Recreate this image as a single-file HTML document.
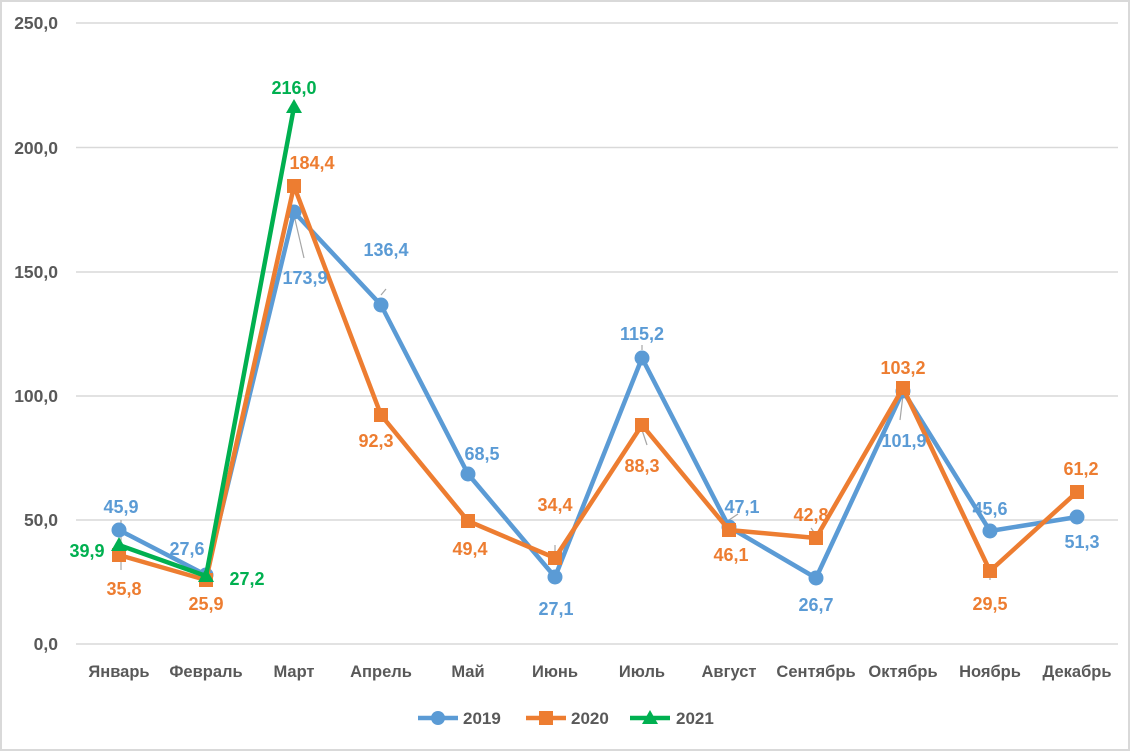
<!DOCTYPE html>
<html><head><meta charset="utf-8"><style>
html,body{margin:0;padding:0;background:#fff}
svg{display:block}
text{font-family:"Liberation Sans",sans-serif;font-weight:bold}
</style></head><body>
<svg width="1130" height="751" viewBox="0 0 1130 751" xmlns="http://www.w3.org/2000/svg">
<rect x="1" y="1" width="1128" height="749" fill="#fff" stroke="#d9d9d9" stroke-width="2"/>
<g stroke="#d9d9d9" stroke-width="1.5">
<line x1="76" y1="23" x2="1118" y2="23"/><line x1="76" y1="147.5" x2="1118" y2="147.5"/>
<line x1="76" y1="272" x2="1118" y2="272"/><line x1="76" y1="396" x2="1118" y2="396"/>
<line x1="76" y1="520" x2="1118" y2="520"/><line x1="76" y1="644" x2="1118" y2="644"/>
</g>
<g fill="#595959" font-size="17.5" text-anchor="end">
<text x="58" y="29">250,0</text><text x="58" y="154">200,0</text><text x="58" y="278">150,0</text>
<text x="58" y="402">100,0</text><text x="58" y="526">50,0</text><text x="58" y="650">0,0</text>
</g>
<g fill="#595959" font-size="16.5" text-anchor="middle">
<text x="119" y="677">Январь</text><text x="206" y="677">Февраль</text><text x="294" y="677">Март</text>
<text x="381" y="677">Апрель</text><text x="468" y="677">Май</text><text x="555" y="677">Июнь</text>
<text x="642" y="677">Июль</text><text x="729" y="677">Август</text><text x="816" y="677">Сентябрь</text>
<text x="903" y="677">Октябрь</text><text x="990" y="677">Ноябрь</text><text x="1077" y="677">Декабрь</text>
</g>
<g stroke="#a6a6a6" stroke-width="1.2">
<line x1="121" y1="520" x2="121" y2="570"/><line x1="294" y1="215" x2="304" y2="258"/>
<line x1="381" y1="295" x2="386" y2="289"/><line x1="642" y1="350" x2="642" y2="345"/>
<line x1="642" y1="430" x2="647" y2="445"/><line x1="555" y1="555" x2="555" y2="545"/>
<line x1="729" y1="520" x2="738" y2="514"/><line x1="816" y1="535" x2="811" y2="528"/>
<line x1="903" y1="395" x2="900" y2="420"/><line x1="990" y1="572" x2="990" y2="580"/>
</g>
<polyline fill="none" stroke="#5b9bd5" stroke-width="4.5" stroke-linejoin="round" points="119,530 206,575 294,212 381,305 468,474 555,577 642,358 729,527 816,578 903,391 990,531 1077,517"/>
<g fill="#5b9bd5">
<circle cx="119" cy="530" r="7.5"/><circle cx="206" cy="575" r="7.5"/><circle cx="294" cy="212" r="7.5"/><circle cx="381" cy="305" r="7.5"/><circle cx="468" cy="474" r="7.5"/><circle cx="555" cy="577" r="7.5"/><circle cx="642" cy="358" r="7.5"/><circle cx="729" cy="527" r="7.5"/><circle cx="816" cy="578" r="7.5"/><circle cx="903" cy="391" r="7.5"/><circle cx="990" cy="531" r="7.5"/><circle cx="1077" cy="517" r="7.5"/>
</g>
<polyline fill="none" stroke="#ed7d31" stroke-width="4.5" stroke-linejoin="round" points="119,555 206,580 294,186 381,415 468,521 555,558 642,425 729,530 816,538 903,388 990,571 1077,492"/>
<g fill="#ed7d31">
<rect x="112" y="548" width="14" height="14"/><rect x="199" y="573" width="14" height="14"/><rect x="287" y="179" width="14" height="14"/><rect x="374" y="408" width="14" height="14"/><rect x="461" y="514" width="14" height="14"/><rect x="548" y="551" width="14" height="14"/><rect x="635" y="418" width="14" height="14"/><rect x="722" y="523" width="14" height="14"/><rect x="809" y="531" width="14" height="14"/><rect x="896" y="381" width="14" height="14"/><rect x="983" y="564" width="14" height="14"/><rect x="1070" y="485" width="14" height="14"/>
</g>
<polyline fill="none" stroke="#00b050" stroke-width="4.5" stroke-linejoin="round" points="119,545 206,576 294,107"/>
<g fill="#00b050">
<polygon points="119,537 127,551 111,551"/><polygon points="206,568 214,582 198,582"/><polygon points="294,99 302,113 286,113"/>
</g>
<g fill="#5b9bd5" font-size="18" text-anchor="middle">
<text x="121" y="513">45,9</text><text x="187" y="555">27,6</text><text x="305" y="284">173,9</text><text x="386" y="256">136,4</text><text x="482" y="460">68,5</text><text x="556" y="615">27,1</text><text x="642" y="340">115,2</text><text x="742" y="513">47,1</text><text x="816" y="611">26,7</text><text x="904" y="447">101,9</text><text x="990" y="515">45,6</text><text x="1082" y="548">51,3</text>
</g>
<g fill="#ed7d31" font-size="18" text-anchor="middle">
<text x="124" y="595">35,8</text><text x="206" y="610">25,9</text><text x="312" y="169">184,4</text><text x="376" y="447">92,3</text><text x="470" y="555">49,4</text><text x="555" y="511">34,4</text><text x="642" y="472">88,3</text><text x="731" y="561">46,1</text><text x="811" y="521">42,8</text><text x="903" y="374">103,2</text><text x="990" y="610">29,5</text><text x="1081" y="475">61,2</text>
</g>
<g fill="#00b050" font-size="18" text-anchor="middle">
<text x="87" y="557">39,9</text><text x="247" y="585">27,2</text><text x="294" y="94">216,0</text>
</g>
<line x1="418" y1="718" x2="458" y2="718" stroke="#5b9bd5" stroke-width="4.5"/><circle cx="438" cy="718" r="7" fill="#5b9bd5"/>
<text x="463" y="724" font-size="17" fill="#595959">2019</text>
<line x1="526" y1="718" x2="566" y2="718" stroke="#ed7d31" stroke-width="4.5"/><rect x="539" y="711" width="14" height="14" fill="#ed7d31"/>
<text x="571" y="724" font-size="17" fill="#595959">2020</text>
<line x1="630" y1="718" x2="670" y2="718" stroke="#00b050" stroke-width="4.5"/><polygon points="650,710 658,724 642,724" fill="#00b050"/>
<text x="676" y="724" font-size="17" fill="#595959">2021</text>
</svg>
</body></html>
